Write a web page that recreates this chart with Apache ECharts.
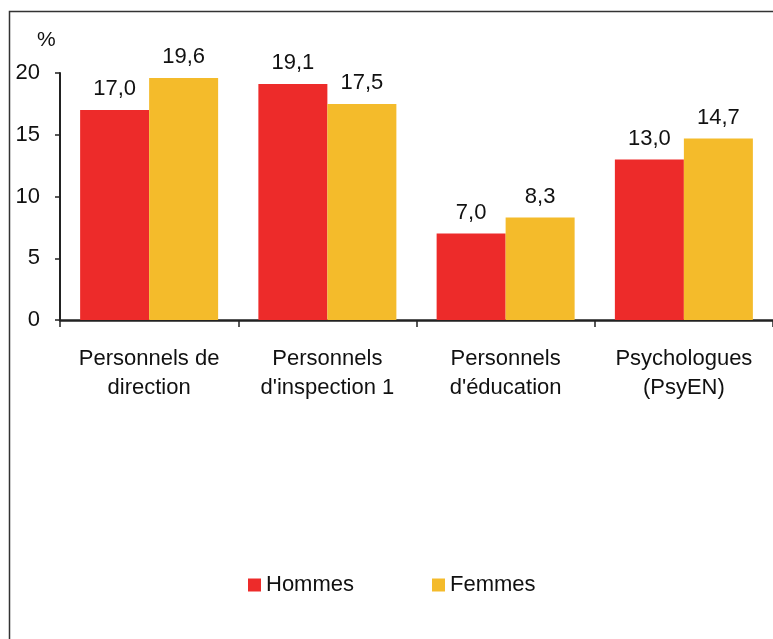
<!DOCTYPE html>
<html>
<head>
<meta charset="utf-8">
<script src="https://cdn.jsdelivr.net/npm/echarts@6/dist/echarts.min.js"></script>
<style>
  html, body { margin: 0; padding: 0; background: #fff; }
  #echart { width: 773px; height: 639px; }
</style>
</head>
<body>
<div id="echart"></div>
<script>
var categories = ['Personnels de\ndirection', 'Personnels\nd\'inspection 1', 'Personnels\nd\'éducation', 'Psychologues\n(PsyEN)'];
var hommes = [17.0, 19.1, 7.0, 13.0];
var femmes = [19.6, 17.5, 8.3, 14.7];
var yTicks = [0, 5, 10, 15, 20];

var myChart = echarts.init(document.getElementById('echart'));

var font = 'Liberation Sans, Arial, sans-serif';

// valeurs avec virgule décimale
function virgule(p) {
    return p.value.toFixed(1).replace('.', ',');
}

var option = {
    backgroundColor: '#fff',
    animation: false,
    textStyle: { fontFamily: font },
    title: {
        text: '%',
        left: 32,
        top: 25,
        textStyle: { fontSize: 21, fontWeight: 'normal', color: '#111', fontFamily: font }
    },
    graphic: [{
        type: 'rect',
        shape: { x: 9.5, y: 11.5, width: 800, height: 700 },
        style: { fill: 'none', stroke: '#333', lineWidth: 1.5 },
        silent: true
    }],
    legend: {
        left: 243,
        top: 569,
        itemWidth: 13,
        itemHeight: 13,
        itemGap: 78,
        icon: 'rect',
        textStyle: { fontSize: 22, color: '#111' },
        data: ['Hommes', 'Femmes']
    },
    grid: {
        left: 60,
        top: 73,
        right: -4,
        bottom: 319
    },
    xAxis: {
        type: 'category',
        data: categories,
        axisLine: { lineStyle: { color: '#222', width: 2.5 } },
        axisTick: { show: true, length: 7, lineStyle: { color: '#222', width: 1.5 } },
        axisLabel: { fontSize: 22, color: '#111', lineHeight: 29, margin: 24, interval: 0 }
    },
    yAxis: {
        type: 'value',
        min: yTicks[0],
        max: yTicks[yTicks.length - 1],
        interval: 5,
        splitLine: { show: false },
        axisLine: { show: true, lineStyle: { color: '#222', width: 2 } },
        axisTick: { show: true, length: 5, lineStyle: { color: '#222', width: 1.5 } },
        axisLabel: { fontSize: 22, color: '#111', margin: 20 }
    },
    series: [
        {
            name: 'Hommes',
            type: 'bar',
            data: hommes,
            barWidth: 69,
            barGap: '0%',
            itemStyle: { color: '#ed2b2a' },
            label: { show: true, position: 'top', distance: 10, fontSize: 22, color: '#111', formatter: virgule }
        },
        {
            name: 'Femmes',
            type: 'bar',
            data: femmes,
            barWidth: 69,
            barGap: '0%',
            itemStyle: { color: '#f4bb2b' },
            label: { show: true, position: 'top', distance: 10, fontSize: 22, color: '#111', formatter: virgule }
        }
    ]
};
myChart.setOption(option);
</script>
</body>
</html>
